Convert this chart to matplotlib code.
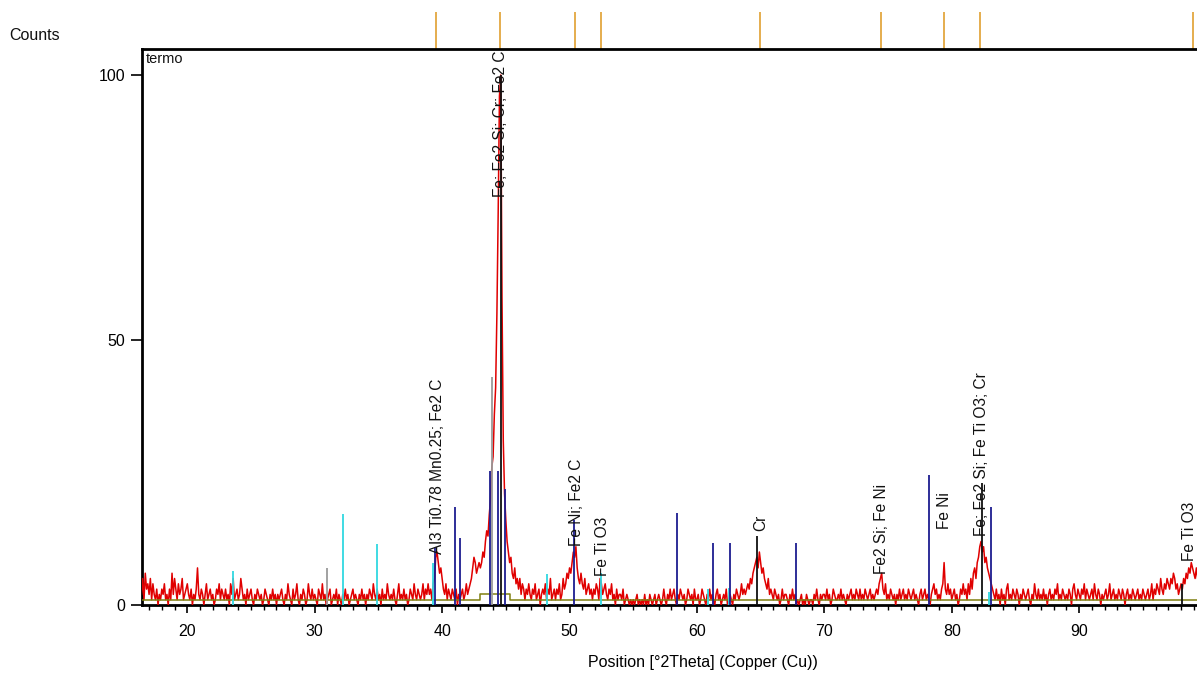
import numpy as np
import matplotlib
matplotlib.use("Agg")
import matplotlib.pyplot as plt
import matplotlib.transforms as mtransforms
from matplotlib.ticker import MultipleLocator, FixedLocator

# ---------------------------------------------------------------------------
# Measured scan: counts every 0.1 deg 2Theta, starting at 16.4 deg
# ---------------------------------------------------------------------------
theta_start = 16.4
theta_step = 0.1

counts_16 = [2, 5, 1, 6, 3, 4, 2, 5, 1, 4, 2, 1, 3, 0, 2, 1, 3, 2, 4, 1,
             2, 0, 3, 1, 6, 2, 5, 3, 1, 4, 2, 3, 5, 1, 2, 3]
counts_20 = [4, 2, 1, 3, 0, 2, 1, 3, 7, 2,
             1, 3, 2, 0, 2, 4, 1, 2, 3, 1,
             2, 0, 1, 3, 2, 4, 1, 3, 2, 1,
             3, 1, 2, 0, 4, 2, 5, 1, 2, 3,
             1, 2, 5, 3, 1, 2, 0, 3, 1, 2,
             3, 1, 0, 2, 1, 3, 2, 1, 2, 0,
             1, 3, 2, 1, 0, 2, 1, 3, 1, 2,
             0, 2, 1, 2, 3, 1, 0, 2, 1, 4,
             2, 1, 0, 3, 1, 2, 4, 1, 0, 2,
             1, 3, 2, 0, 1, 4, 2, 1, 3, 1]
counts_30 = [2, 1, 0, 3, 2, 1, 4, 1, 2, 0,
             1, 2, 3, 0, 1, 2, 1, 3, 0, 2,
             1, 0, 2, 1, 3, 1, 2, 0, 1, 2,
             3, 1, 2, 1, 0, 2, 1, 3, 1, 2,
             0, 2, 1, 3, 2, 1, 4, 2, 1, 3,
             1, 2, 0, 3, 1, 2, 1, 4, 2, 1,
             2, 1, 3, 1, 0, 2, 4, 1, 2, 1,
             3, 1, 2, 0, 1, 3, 2, 1, 4, 2,
             1, 3, 2, 1, 2, 4, 1, 3, 2, 4,
             2, 3, 1, 4, 5, 9, 10, 8, 6, 7]
counts_40 = [5, 3, 2, 4, 1, 3, 2, 1, 3, 2,
             1, 3, 0, 2, 1, 2, 3, 1, 2, 4,
             2, 3, 4, 5, 7, 9, 8, 6, 7, 8,
             7, 8, 10, 9, 12, 14, 13, 17, 20, 26,
             28, 36, 41, 55, 74, 96, 100, 58, 31, 21,
             16, 12, 10, 8, 9, 6, 5, 7, 4, 5,
             3, 5, 2, 4, 3, 1, 3, 2, 4, 2,
             1, 3, 2, 4, 1, 2, 3, 0, 2, 3,
             2, 4, 1, 3, 2, 5, 1, 2, 3, 1,
             3, 2, 4, 1, 2, 5, 3, 4, 6, 5]
counts_50 = [7, 6, 8, 10, 9, 11, 7, 5, 4, 6,
             4, 3, 5, 2, 3, 4, 2, 3, 1, 3,
             2, 4, 3, 1, 5, 4, 2, 3, 4, 2,
             1, 3, 2, 4, 1, 2, 0, 3, 1, 2,
             2, 1, 3, 0, 1, 2, 1, 0, 1, 0,
             1, 0, 1, 2, 0, 1, 0, 1, 0, 2,
             0, 1, 0, 2, 1, 0, 1, 2, 0, 1,
             2, 1, 0, 1, 3, 1, 0, 2, 1, 3,
             1, 2, 3, 1, 0, 2, 1, 3, 2, 1,
             2, 0, 1, 3, 2, 1, 2, 0, 3, 1]
counts_60 = [1, 2, 0, 1, 3, 2, 1, 0, 2, 1,
             3, 1, 2, 1, 0, 2, 3, 1, 2, 0,
             1, 2, 1, 3, 0, 1, 2, 1, 0, 2,
             1, 3, 2, 1, 2, 4, 2, 3, 2, 3,
             4, 3, 5, 4, 6, 7, 8, 9, 7, 10,
             8, 6, 7, 5, 4, 3, 5, 2, 3, 2,
             1, 3, 2, 1, 2, 0, 1, 3, 1, 2,
             2, 1, 0, 2, 1, 3, 1, 2, 0, 1,
             0, 1, 2, 0, 1, 0, 2, 1, 0, 1,
             1, 0, 2, 1, 3, 1, 0, 2, 1, 2]
counts_70 = [2, 1, 3, 1, 2, 0, 1, 3, 2, 1,
             1, 2, 1, 3, 1, 2, 1, 0, 2, 1,
             2, 3, 1, 2, 1, 3, 2, 1, 3, 1,
             2, 1, 3, 2, 1, 2, 3, 1, 2, 1,
             2, 3, 2, 4, 5, 6, 3, 2, 4, 1,
             2, 1, 3, 2, 1, 2, 0, 2, 1, 3,
             1, 2, 3, 1, 2, 1, 3, 2, 1, 2,
             3, 1, 2, 1, 0, 2, 3, 1, 2, 3,
             1, 2, 1, 0, 2, 3, 4, 2, 3, 1,
             2, 1, 3, 4, 8, 3, 2, 4, 2, 3]
counts_80 = [1, 2, 3, 1, 2, 0, 1, 3, 2, 4,
             2, 3, 1, 4, 2, 5, 3, 6, 7, 5,
             8, 9, 11, 12, 10, 11, 8, 9, 7, 6,
             5, 4, 3, 2, 1, 3, 1, 2, 0, 3,
             1, 2, 0, 3, 4, 1, 2, 1, 3, 2,
             1, 3, 2, 0, 2, 1, 3, 2, 1, 2,
             3, 1, 0, 2, 1, 4, 2, 1, 3, 1,
             2, 1, 3, 1, 2, 0, 2, 3, 1, 2,
             1, 3, 2, 4, 1, 2, 1, 3, 2, 1,
             2, 1, 3, 2, 0, 3, 4, 2, 1, 3]
counts_90 = [2, 1, 3, 2, 4, 1, 3, 2, 1, 2,
             3, 1, 4, 2, 1, 3, 2, 0, 2, 1,
             2, 3, 1, 2, 4, 1, 2, 3, 1, 2,
             1, 3, 2, 1, 3, 2, 0, 2, 3, 1,
             2, 1, 3, 2, 1, 2, 3, 1, 2, 1,
             3, 2, 1, 2, 3, 1, 2, 4, 1, 3,
             2, 4, 3, 2, 5, 3, 2, 4, 3, 5,
             4, 3, 5, 4, 6, 5, 3, 4, 2, 3,
             4, 3, 5, 4, 6, 5, 7, 6, 8, 7,
             6, 5, 7, 5, 4]

# Fitted background (step under the main reflection)
background_theta = [16.4, 43.0, 43.0, 45.3, 45.3, 99.4]
background_counts = [1, 1, 2, 2, 1, 1]

# Reference patterns (stick positions in deg 2Theta and relative heights)
cyan_pos = [23.55, 32.2, 34.9, 39.3, 48.2, 52.5, 60.9, 62.55, 82.9]
cyan_h = [6.4, 17.1, 11.6, 8.0, 5.8, 6.1, 3.0, 3.3, 2.5]
navy_pos = [39.45, 41.0, 41.43, 43.73, 44.36, 44.9, 50.38, 58.4, 61.3,
            62.6, 67.8, 78.25, 83.1]
navy_h = [10.8, 18.4, 12.6, 25.3, 25.3, 21.8, 16.0, 17.4, 11.7,
          11.7, 11.7, 24.5, 18.5]
grey_pos = [31.0, 43.9]
grey_h = [6.9, 43.0]
black_pos = [44.65, 64.75, 82.35, 98.1]
black_h = [100.0, 13.1, 23.0, 4.0]

# Peak list (markers above the plot)
peak_positions = [39.55, 44.57, 50.45, 52.5, 64.98, 74.47, 79.42, 82.24, 98.96]

# Phase identification labels
label_texts = ["Al3 Ti0.78 Mn0.25; Fe2 C", "Fe; Fe2 Si; Cr; Fe2 C",
               "Fe Ni; Fe2 C", "Fe Ti O3", "Cr", "Fe2 Si; Fe Ni", "Fe Ni",
               "Fe; Fe2 Si; Fe Ti O3; Cr", "Fe Ti O3"]
label_theta = [39.6, 44.6, 50.55, 52.6, 64.98, 74.47, 79.42, 82.3, 98.68]
label_counts = [9.6, 77.0, 11.1, 5.5, 14.0, 5.8, 14.3, 13.0, 8.3]

tick_values_x = [20, 30, 40, 50, 60, 70, 80, 90]
tick_values_y = [0, 50, 100]

# ---------------------------------------------------------------------------
counts = np.array(counts_16 + counts_20 + counts_30 + counts_40 + counts_50 +
                  counts_60 + counts_70 + counts_80 + counts_90, dtype=float)
theta = theta_start + theta_step * np.arange(len(counts))

narrow = ['Liberation Sans Narrow', 'Liberation Sans', 'DejaVu Sans']
plain = ['Liberation Sans', 'DejaVu Sans']

W, H = 1197, 675
fig = plt.figure(figsize=(W / 100, H / 100), dpi=100)
fig.patch.set_facecolor('white')

left_px, right_px, top_px, bottom_px = 141.7, 1197.0, 49.0, 605.0
ax = fig.add_axes([left_px / W, 1 - bottom_px / H,
                   (right_px - left_px) / W, (bottom_px - top_px) / H])
ax.set_xlim(16.42, 99.25)
ax.set_ylim(0, 104.9)

# Measured profile
ax.plot(theta, counts, color='#e00000', lw=1.1, zorder=3)
# Background
ax.plot(background_theta, background_counts, color='#7f7f10', lw=1.1, zorder=4)

# Reference sticks
ax.vlines(cyan_pos, 0, cyan_h, color='#30d8e0', lw=1.3, zorder=5)
ax.vlines(grey_pos, 0, grey_h, color='#9a9a9a', lw=1.3, zorder=5)
ax.vlines(navy_pos, 0, navy_h, color='#1c1c90', lw=1.3, zorder=5)
ax.vlines(black_pos, 0, black_h, color='#101010', lw=1.3, zorder=5)

# Peak markers above the frame
trans = mtransforms.blended_transform_factory(ax.transData, ax.transAxes)
ax.vlines(peak_positions, 1.0, 1 + (top_px - 12) / (bottom_px - top_px),
          color='#e0a030', lw=1.2, transform=trans, clip_on=False, zorder=1)

# Phase labels
for txt, x, y in zip(label_texts, label_theta, label_counts):
    ax.text(x, y, txt, rotation=90, ha='center', va='bottom', fontsize=11.2,
            family=plain, color='#111111', zorder=6, clip_on=False)

# Frame
for side in ['top', 'left', 'bottom']:
    ax.spines[side].set_linewidth(2.0)
    ax.spines[side].set_color('black')
ax.spines['right'].set_visible(False)

ax.xaxis.set_major_locator(FixedLocator(tick_values_x))
ax.xaxis.set_minor_locator(MultipleLocator(1))
ax.yaxis.set_major_locator(FixedLocator(tick_values_y))
ax.tick_params(axis='x', which='major', direction='out', length=6, width=1.2,
               labelsize=11.5, pad=8)
ax.tick_params(axis='x', which='minor', direction='out', length=3.5, width=1.0)
ax.tick_params(axis='y', which='major', direction='out', length=8, width=1.2,
               labelsize=11.5, pad=4)
for lab in ax.get_xticklabels() + ax.get_yticklabels():
    lab.set_family(narrow)

ax.set_xlabel('Position [°2Theta] (Copper (Cu))', fontsize=11.5, family=narrow)
ax.xaxis.set_label_coords((703 - left_px) / (right_px - left_px), -0.09)

ax.text(0.004, 0.995, 'termo', transform=ax.transAxes, ha='left', va='top',
        fontsize=10.5, family=narrow, color='#111111')
fig.text(9 / W, 1 - 43 / H, 'Counts', ha='left', va='bottom', fontsize=11.5,
         family=narrow, color='#111111')

fig.savefig('out.png', dpi=100, facecolor='white')
